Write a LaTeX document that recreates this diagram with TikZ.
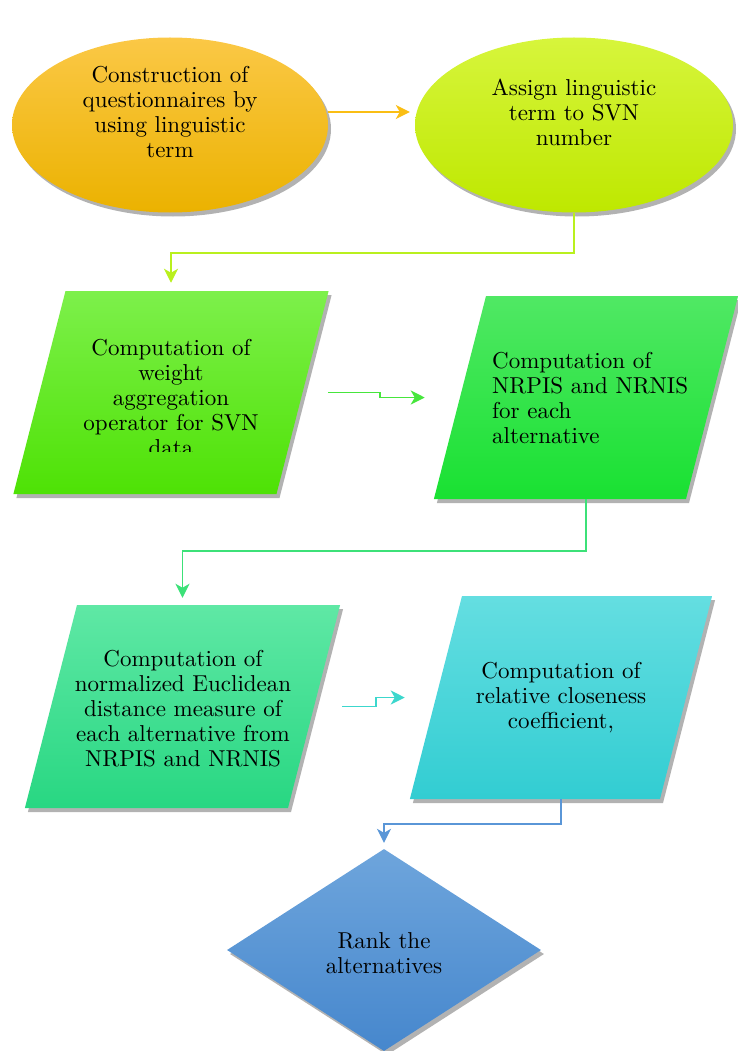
\documentclass[tikz,border=0pt]{standalone}
\usepackage{fontspec}
\setmainfont{lmroman10-regular.otf}
\usetikzlibrary{shapes.geometric,shadows,arrows.meta,calc}

\definecolor{questTop}{RGB}{251,200,70}
\definecolor{questBot}{RGB}{235,178,0}
\definecolor{assignTop}{RGB}{215,245,60}
\definecolor{assignBot}{RGB}{190,232,0}
\definecolor{weightTop}{RGB}{125,240,75}
\definecolor{weightBot}{RGB}{78,226,5}
\definecolor{nrpisTop}{RGB}{80,232,100}
\definecolor{nrpisBot}{RGB}{25,225,50}
\definecolor{euclidTop}{RGB}{95,232,165}
\definecolor{euclidBot}{RGB}{40,215,130}
\definecolor{closeTop}{RGB}{100,222,225}
\definecolor{closeBot}{RGB}{50,205,210}
\definecolor{rankTop}{RGB}{110,165,220}
\definecolor{rankBot}{RGB}{70,135,205}

\newcommand{\slantbody}[1]{\vrule width 0pt height 203pt\hspace*{#1}}

\tikzset{
    txt/.style={font=\fontsize{23}{25}\selectfont, align=center, inner sep=0pt},
    shadowed/.style={drop shadow={shadow xshift=3pt, shadow yshift=-4pt, opacity=0.3, fill=black}},
    oval/.style={ellipse, shadowed, inner sep=0pt, minimum width=316, minimum height=175},
    slant/.style={trapezium, trapezium left angle=75.6, trapezium right angle=104.4,
        shadowed, inner sep=0pt},
    flow/.style={-{Stealth[length=14pt,width=14pt,inset=4pt]}, line width=1.6pt}
}

\begin{document}
\begin{tikzpicture}[x=1pt, y=-1pt]
    \useasboundingbox (0,0) rectangle (738,1051);

    \node[oval, top color=questTop, bottom color=questBot] (quest) at (170,125) {};
    \node[oval, top color=assignTop, bottom color=assignBot, minimum width=318] (assign) at (574,125) {};
    \node[slant, top color=weightTop, bottom color=weightBot] (weight) at (171,392.5) {\slantbody{211pt}};
    \node[slant, top color=nrpisTop, bottom color=nrpisBot] (nrpis) at (586,397.5) {\slantbody{200pt}};
    \node[slant, top color=euclidTop, bottom color=euclidBot] (euclid) at (182.5,706.5) {\slantbody{211pt}};
    \node[slant, top color=closeTop, bottom color=closeBot] (close) at (561,697.5) {\slantbody{198pt}};
    \node[diamond, shadowed, top color=rankTop, bottom color=rankBot, inner sep=0pt,
        minimum width=314, minimum height=202] (rank) at (384,950) {};

    \node[txt] (questtxt) at (170,112) {Construction of\\questionnaires by\\using linguistic\\term};
    \node[txt] (assigntxt) at (574,112) {Assign linguistic\\term to SVN\\number};
    \begin{scope}
        \clip (0,280) rectangle (738,451);
        \node[txt] (weighttxt) at (171,398) {Computation of\\weight\\aggregation\\operator for SVN\\data};
    \end{scope}
    \node[txt, align=left, anchor=west] (nrpistxt) at (492,398) {Computation of\\NRPIS and NRNIS\\for each\\alternative};
    \node[txt] (euclidtxt) at (183,709) {Computation of\\normalized Euclidean\\distance measure of\\each alternative from\\NRPIS and NRNIS};
    \node[txt] (closetxt) at (561,698) {Computation of\\relative closeness\\coefficient,};
    \node[txt] (ranktxt) at (384,953) {Rank the\\alternatives};

    \draw[flow, color={rgb,255:red,250;green,190;blue,20}, shorten >=5pt]
        (quest.east |- questtxt) -- (assign.west |- questtxt);
    \draw[flow, color={rgb,255:red,185;green,240;blue,30}, shorten >=8pt]
        (assign.south) -- ++(0,40) -| (weight.center |- weight.north);
    \draw[flow, color={rgb,255:red,70;green,230;blue,60}]
        ([xshift=25pt]weight.east) -- ++(52,0) |- ([xshift=-35pt]nrpis.west);
    \draw[flow, color={rgb,255:red,60;green,225;blue,120}, shorten >=7pt]
        (nrpis.center |- nrpis.south) -- ++(0,52) -| (euclid.center |- euclid.north);
    \draw[flow, color={rgb,255:red,60;green,215;blue,205}]
        ([xshift=28pt]euclid.east) -- ++(34,0) |- ([xshift=-31pt]close.west);
    \draw[flow, color={rgb,255:red,90;green,150;blue,215}, shorten >=6pt]
        (close.center |- close.south) -- ++(0,25) -| (rank.north);
\end{tikzpicture}
\end{document}
